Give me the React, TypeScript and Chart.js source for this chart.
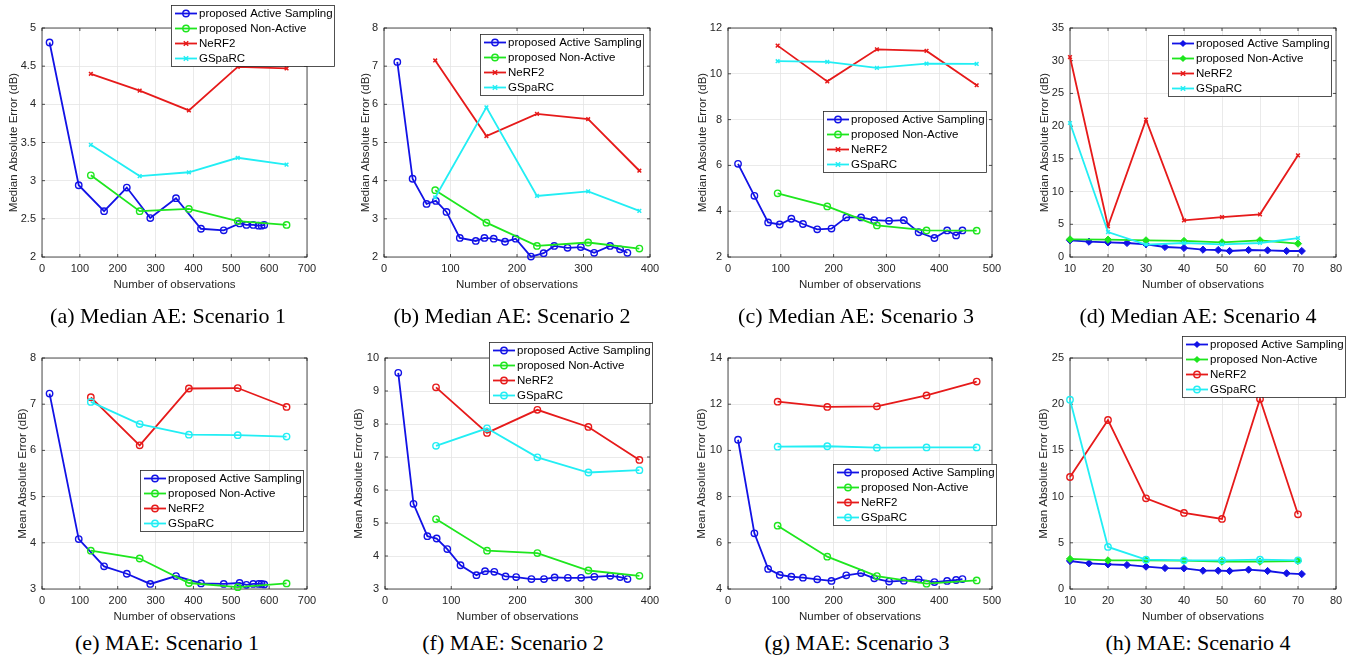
import React, { useEffect, useRef } from 'react';
import { Chart, registerables } from 'chart.js';

Chart.register(...registerables);

// ---------------- DATA ----------------
const seriesLabels = ['proposed Active Sampling', 'proposed Non-Active', 'NeRF2', 'GSpaRC'];

// Scenario x positions (number of observations)
const s1ActiveX = [20, 97, 164, 224, 286, 354, 420, 480, 522, 540, 558, 572, 580, 587];
const s1BaseX = [129, 258, 388, 517, 646];
const s2ActiveX = [20, 43, 64, 78, 94, 114, 138, 151, 165, 182, 198, 221, 240, 256, 276, 296, 316, 340, 355, 366];
const s2BaseX = [77, 154, 230, 307, 384];
const s3ActiveX = [19, 50, 76, 98, 120, 142, 169, 196, 224, 252, 277, 305, 333, 361, 391, 415, 432, 444];
const s3BaseX = [94, 188, 282, 376, 471];
const s4ActiveX = [10, 15, 20, 25, 30, 35, 40, 45, 49, 52, 57, 62, 67, 71];
const s4BaseX = [10, 20, 30, 40, 50, 60, 70];

// (a) Median AE: Scenario 1
const aActive = [4.81, 2.94, 2.6, 2.91, 2.51, 2.77, 2.37, 2.35, 2.44, 2.42, 2.42, 2.41, 2.41, 2.42];
const aNonActive = [3.07, 2.6, 2.63, 2.47, 2.42];
const aNerf = [4.4, 4.18, 3.92, 4.49, 4.47];
const aGsparc = [3.47, 3.06, 3.11, 3.3, 3.21];
// (b) Median AE: Scenario 2
const bActive = [7.11, 4.05, 3.39, 3.47, 3.18, 2.5, 2.42, 2.5, 2.48, 2.4, 2.48, 2.01, 2.1, 2.29, 2.24, 2.26, 2.11, 2.29, 2.2, 2.11];
const bNonActive = [3.75, 2.9, 2.29, 2.38, 2.22];
const bNerf = [7.15, 5.17, 5.75, 5.61, 4.26];
const bGsparc = [3.56, 5.92, 3.6, 3.72, 3.21];
// (c) Median AE: Scenario 3
const cActive = [6.07, 4.67, 3.51, 3.42, 3.67, 3.44, 3.21, 3.24, 3.73, 3.73, 3.61, 3.58, 3.61, 3.08, 2.83, 3.16, 2.94, 3.16];
const cNonActive = [4.78, 4.21, 3.38, 3.16, 3.15];
const cNerf = [11.23, 9.67, 11.07, 11.0, 9.5];
const cGsparc = [10.55, 10.52, 10.26, 10.44, 10.43];
// (d) Median AE: Scenario 4
const dActive = [2.55, 2.34, 2.24, 2.14, 1.94, 1.53, 1.38, 1.12, 1.07, 0.92, 1.07, 1.02, 0.92, 0.92];
const dNonActive = [2.7, 2.65, 2.55, 2.45, 2.24, 2.55, 2.04];
const dNerf = [30.56, 4.69, 20.99, 5.6, 6.11, 6.52, 15.54];
const dGsparc = [20.48, 3.82, 1.88, 2.14, 1.94, 2.14, 2.9];
// (e) MAE: Scenario 1
const eActive = [7.23, 4.08, 3.49, 3.33, 3.11, 3.28, 3.12, 3.11, 3.13, 3.09, 3.11, 3.11, 3.11, 3.1];
const eNonActive = [3.83, 3.66, 3.13, 3.04, 3.12];
const eNerf = [7.15, 6.11, 7.34, 7.35, 6.94];
const eGsparc = [7.05, 6.57, 6.34, 6.33, 6.3];
// (f) MAE: Scenario 2
const fActive = [9.55, 5.58, 4.6, 4.53, 4.21, 3.72, 3.42, 3.54, 3.52, 3.38, 3.36, 3.3, 3.3, 3.35, 3.34, 3.34, 3.37, 3.4, 3.36, 3.3];
const fNonActive = [5.12, 4.16, 4.09, 3.56, 3.4];
const fNerf = [9.11, 7.73, 8.43, 7.91, 6.91];
const fGsparc = [7.34, 7.87, 6.99, 6.53, 6.6];
// (g) MAE: Scenario 3
const gActive = [10.46, 6.41, 4.87, 4.61, 4.53, 4.49, 4.42, 4.35, 4.59, 4.69, 4.46, 4.32, 4.36, 4.42, 4.3, 4.35, 4.39, 4.43];
const gNonActive = [6.74, 5.4, 4.56, 4.23, 4.37];
const gNerf = [12.11, 11.88, 11.91, 12.38, 12.98];
const gGsparc = [10.16, 10.18, 10.12, 10.13, 10.13];
// (h) MAE: Scenario 4
const hActive = [3.03, 2.78, 2.67, 2.6, 2.42, 2.27, 2.24, 1.98, 1.98, 1.95, 2.09, 1.95, 1.7, 1.62];
const hNonActive = [3.25, 3.1, 3.1, 3.07, 2.96, 2.96, 3.03];
const hNerf = [12.12, 18.29, 9.81, 8.23, 7.58, 20.56, 8.08];
const hGsparc = [20.49, 4.55, 3.17, 3.1, 3.1, 3.17, 3.1];

const captions = [
  '(a) Median AE: Scenario 1', '(b) Median AE: Scenario 2', '(c) Median AE: Scenario 3', '(d) Median AE: Scenario 4',
  '(e) MAE: Scenario 1', '(f) MAE: Scenario 2', '(g) MAE: Scenario 3', '(h) MAE: Scenario 4',
];
const xTitle = 'Number of observations';
const yTitleMedian = 'Median Absolute Error (dB)';
const yTitleMean = 'Mean Absolute Error (dB)';

// ---------------- STYLE ----------------
const COLORS = ['#1212e6', '#1ee61e', '#e61a1a', '#22eef4'];
const FONT = '"Liberation Sans", Arial, Helvetica, sans-serif';
const TICK_SIZE = 11;
const LABEL_SIZE = 11.5;
const AX = '#262626';

type Spec = {
  cell: { x: number; y: number; w: number; h: number };
  axes: { L: number; T: number; R: number; B: number };
  xr: [number, number, number];
  yr: [number, number, number];
  yTitle: string;
  yTitleDist: number;
  xs: [number[], number[]];
  ys: number[][];
  markers: string[];
  legend: { x: number; y: number };
  caption: string;
  captionX: number;
};

const row1Cell = (x: number, w: number) => ({ x, y: 0, w, h: 300 });
const row2Cell = (x: number, w: number) => ({ x, y: 325, w, h: 303 });
const MK1 = ['circle', 'circle', 'crossRot', 'crossRot'];
const MK4a = ['rectRot', 'rectRot', 'crossRot', 'crossRot'];
const MK2 = ['circle', 'circle', 'circle', 'circle'];
const MK4b = ['rectRot', 'rectRot', 'circle', 'circle'];

const specs: Spec[] = [
  { cell: row1Cell(0, 341), axes: { L: 42, T: 28, R: 307, B: 257 }, xr: [0, 700, 100], yr: [2, 5, 0.5], yTitle: yTitleMedian, yTitleDist: 28,
    xs: [s1ActiveX, s1BaseX], ys: [aActive, aNonActive, aNerf, aGsparc], markers: MK1, legend: { x: 171, y: 5 }, caption: captions[0], captionX: 168 },
  { cell: row1Cell(341, 341), axes: { L: 384, T: 28, R: 650, B: 257 }, xr: [0, 400, 100], yr: [2, 8, 1], yTitle: yTitleMedian, yTitleDist: 18,
    xs: [s2ActiveX, s2BaseX], ys: [bActive, bNonActive, bNerf, bGsparc], markers: MK1, legend: { x: 480, y: 34 }, caption: captions[1], captionX: 512 },
  { cell: row1Cell(682, 341), axes: { L: 728, T: 28, R: 992, B: 257 }, xr: [0, 500, 100], yr: [2, 12, 2], yTitle: yTitleMedian, yTitleDist: 25.5,
    xs: [s3ActiveX, s3BaseX], ys: [cActive, cNonActive, cNerf, cGsparc], markers: MK1, legend: { x: 823, y: 111 }, caption: captions[2], captionX: 856 },
  { cell: row1Cell(1023, 342), axes: { L: 1070, T: 28, R: 1336, B: 257 }, xr: [10, 80, 10], yr: [0, 35, 5], yTitle: yTitleMedian, yTitleDist: 25,
    xs: [s4ActiveX, s4BaseX], ys: [dActive, dNonActive, dNerf, dGsparc], markers: MK4a, legend: { x: 1168, y: 35 }, caption: captions[3], captionX: 1198 },
  { cell: row2Cell(0, 341), axes: { L: 42, T: 358, R: 307, B: 589 }, xr: [0, 700, 100], yr: [3, 8, 1], yTitle: yTitleMean, yTitleDist: 19.5,
    xs: [s1ActiveX, s1BaseX], ys: [eActive, eNonActive, eNerf, eGsparc], markers: MK2, legend: { x: 140, y: 470 }, caption: captions[4], captionX: 167 },
  { cell: row2Cell(341, 341), axes: { L: 385, T: 358, R: 650, B: 589 }, xr: [0, 400, 100], yr: [3, 10, 1], yTitle: yTitleMean, yTitleDist: 26,
    xs: [s2ActiveX, s2BaseX], ys: [fActive, fNonActive, fNerf, fGsparc], markers: MK2, legend: { x: 489, y: 342 }, caption: captions[5], captionX: 513 },
  { cell: row2Cell(682, 341), axes: { L: 728, T: 358, R: 992, B: 589 }, xr: [0, 500, 100], yr: [4, 14, 2], yTitle: yTitleMean, yTitleDist: 26,
    xs: [s3ActiveX, s3BaseX], ys: [gActive, gNonActive, gNerf, gGsparc], markers: MK2, legend: { x: 833, y: 464 }, caption: captions[6], captionX: 857 },
  { cell: row2Cell(1023, 342), axes: { L: 1070, T: 358, R: 1336, B: 589 }, xr: [10, 80, 10], yr: [0, 25, 5], yTitle: yTitleMean, yTitleDist: 26,
    xs: [s4ActiveX, s4BaseX], ys: [hActive, hNonActive, hNerf, hGsparc], markers: MK4b, legend: { x: 1182, y: 336 }, caption: captions[7], captionX: 1198 },
];

function markerProps(marker: string, color: string) {
  if (marker === 'circle') return { pointStyle: 'circle', pointRadius: 3.2, pointBorderWidth: 1.4, pointBackgroundColor: 'rgba(255,255,255,0)', pointBorderColor: color };
  if (marker === 'rectRot') return { pointStyle: 'rectRot', pointRadius: 3.6, pointBorderWidth: 1, pointBackgroundColor: color, pointBorderColor: color };
  return { pointStyle: 'crossRot', pointRadius: 2.6, pointBorderWidth: 1.5, pointBackgroundColor: color, pointBorderColor: color };
}

function drawMarker(ctx: CanvasRenderingContext2D, marker: string, x: number, y: number, color: string) {
  ctx.save();
  ctx.strokeStyle = color;
  ctx.fillStyle = color;
  if (marker === 'circle') {
    ctx.lineWidth = 1.4;
    ctx.beginPath();
    ctx.arc(x, y, 3.2, 0, Math.PI * 2);
    ctx.stroke();
  } else if (marker === 'rectRot') {
    const r = 3.6;
    ctx.beginPath();
    ctx.moveTo(x, y - r); ctx.lineTo(x + r, y); ctx.lineTo(x, y + r); ctx.lineTo(x - r, y); ctx.closePath();
    ctx.fill();
  } else {
    const r = 2.2;
    ctx.lineWidth = 1.5;
    ctx.beginPath();
    ctx.moveTo(x - r, y - r); ctx.lineTo(x + r, y + r);
    ctx.moveTo(x + r, y - r); ctx.lineTo(x - r, y + r);
    ctx.stroke();
  }
  ctx.restore();
}

const boxPlugin = {
  id: 'matBox',
  beforeDatasetsDraw(chart: any) {
    const { ctx, chartArea: a, scales } = chart;
    ctx.save();
    ctx.strokeStyle = AX;
    ctx.lineWidth = 0.8;
    ctx.strokeRect(a.left, a.top, a.right - a.left, a.bottom - a.top);
    ctx.beginPath();
    scales.x.ticks.forEach((t: any) => {
      const px = scales.x.getPixelForValue(t.value);
      ctx.moveTo(px, a.bottom); ctx.lineTo(px, a.bottom - 3);
      ctx.moveTo(px, a.top); ctx.lineTo(px, a.top + 3);
    });
    scales.y.ticks.forEach((t: any) => {
      const py = scales.y.getPixelForValue(t.value);
      ctx.moveTo(a.left, py); ctx.lineTo(a.left + 3, py);
      ctx.moveTo(a.right, py); ctx.lineTo(a.right - 3, py);
    });
    ctx.stroke();
    ctx.restore();
  },
  afterDraw(chart: any) {
    const opts = chart.options.plugins.matLegend;
    if (!opts) return;
    const { ctx } = chart;
    const x = opts.x, y = opts.y, w = 163, h = 61;
    ctx.save();
    ctx.fillStyle = '#ffffff';
    ctx.fillRect(x, y, w, h);
    ctx.strokeStyle = AX;
    ctx.lineWidth = 0.8;
    ctx.strokeRect(x + 0.5, y + 0.5, w, h);
    ctx.font = `${LABEL_SIZE}px ${FONT}`;
    ctx.textBaseline = 'middle';
    ctx.textAlign = 'left';
    opts.labels.forEach((lab: string, i: number) => {
      const cy = y + 8.5 + i * 15;
      ctx.strokeStyle = COLORS[i];
      ctx.lineWidth = 1.8;
      ctx.beginPath();
      ctx.moveTo(x + 4, cy); ctx.lineTo(x + 26, cy);
      ctx.stroke();
      drawMarker(ctx, opts.markers[i], x + 15, cy, COLORS[i]);
      ctx.fillStyle = '#000';
      ctx.fillText(lab, x + 28, cy + 0.5);
    });
    ctx.restore();
  },
};

function fmt(v: number) {
  return String(Math.round(v * 100) / 100);
}

function Panel({ s }: { s: Spec }) {
  const ref = useRef<HTMLCanvasElement | null>(null);
  useEffect(() => {
    if (!ref.current) return;
    const { cell, axes } = s;
    const yW = axes.L - cell.x;
    const xH = cell.y + cell.h - axes.B;
    const lh = LABEL_SIZE * 1.2;
    const datasets = seriesLabels.map((label, i) => {
      const xs = i === 0 ? s.xs[0] : s.xs[1];
      return {
        label,
        data: xs.map((x, k) => ({ x, y: s.ys[i][k] })),
        borderColor: COLORS[i],
        backgroundColor: COLORS[i],
        borderWidth: 1.8,
        tension: 0,
        clip: false as any,
        order: 3 - i,
        ...markerProps(s.markers[i], COLORS[i]),
      };
    });
    const chart = new Chart(ref.current, {
      type: 'line',
      data: { datasets: datasets as any },
      plugins: [boxPlugin],
      options: {
        animation: false,
        responsive: false,
        events: [],
        layout: { padding: { left: 0, top: axes.T - cell.y, right: cell.x + cell.w - axes.R, bottom: 0 } },
        plugins: {
          legend: { display: false },
          tooltip: { enabled: false },
          matLegend: { x: s.legend.x - cell.x, y: s.legend.y - cell.y, labels: seriesLabels, markers: s.markers },
        } as any,
        scales: {
          x: {
            type: 'linear',
            min: s.xr[0], max: s.xr[1],
            ticks: { stepSize: s.xr[2], autoSkip: false, padding: 5, color: AX, font: { family: FONT, size: TICK_SIZE }, callback: (v: any) => fmt(Number(v)) },
            grid: { color: '#e4e4e4', lineWidth: 0.8, drawTicks: false },
            border: { display: false },
            title: { display: true, text: xTitle, color: AX, font: { family: FONT, size: LABEL_SIZE }, padding: { top: 0, bottom: xH - 28 - lh / 2 } },
            afterFit: (sc: any) => { sc.height = xH; },
          },
          y: {
            type: 'linear',
            min: s.yr[0], max: s.yr[1],
            ticks: { stepSize: s.yr[2], autoSkip: false, padding: 6, color: AX, font: { family: FONT, size: TICK_SIZE }, callback: (v: any) => fmt(Number(v)) },
            grid: { color: '#e4e4e4', lineWidth: 0.8, drawTicks: false },
            border: { display: false },
            title: { display: true, text: s.yTitle, color: AX, font: { family: FONT, size: LABEL_SIZE }, padding: { top: yW - s.yTitleDist - lh / 2, bottom: 0 } },
            afterFit: (sc: any) => { sc.width = yW; },
          },
        },
      },
    });
    return () => chart.destroy();
  }, [s]);
  return (
    <canvas
      ref={ref}
      width={s.cell.w}
      height={s.cell.h}
      style={{ position: 'absolute', left: s.cell.x, top: s.cell.y, width: s.cell.w, height: s.cell.h }}
    />
  );
}

export default function App() {
  return (
    <div style={{ position: 'absolute', left: 0, top: 0, width: 1365, height: 658, background: '#fff', overflow: 'hidden' }}>
      {specs.map((s, i) => (
        <Panel key={i} s={s} />
      ))}
      {specs.map((s, i) => (
        <div
          key={'c' + i}
          style={{
            position: 'absolute',
            left: s.captionX - 170,
            width: 340,
            top: i < 4 ? 304.6 : 631.6,
            textAlign: 'center',
            fontFamily: '"Liberation Serif", "Times New Roman", serif',
            fontSize: 22,
            lineHeight: '22px',
            color: '#000',
            whiteSpace: 'nowrap',
          }}
        >
          {s.caption}
        </div>
      ))}
    </div>
  );
}
